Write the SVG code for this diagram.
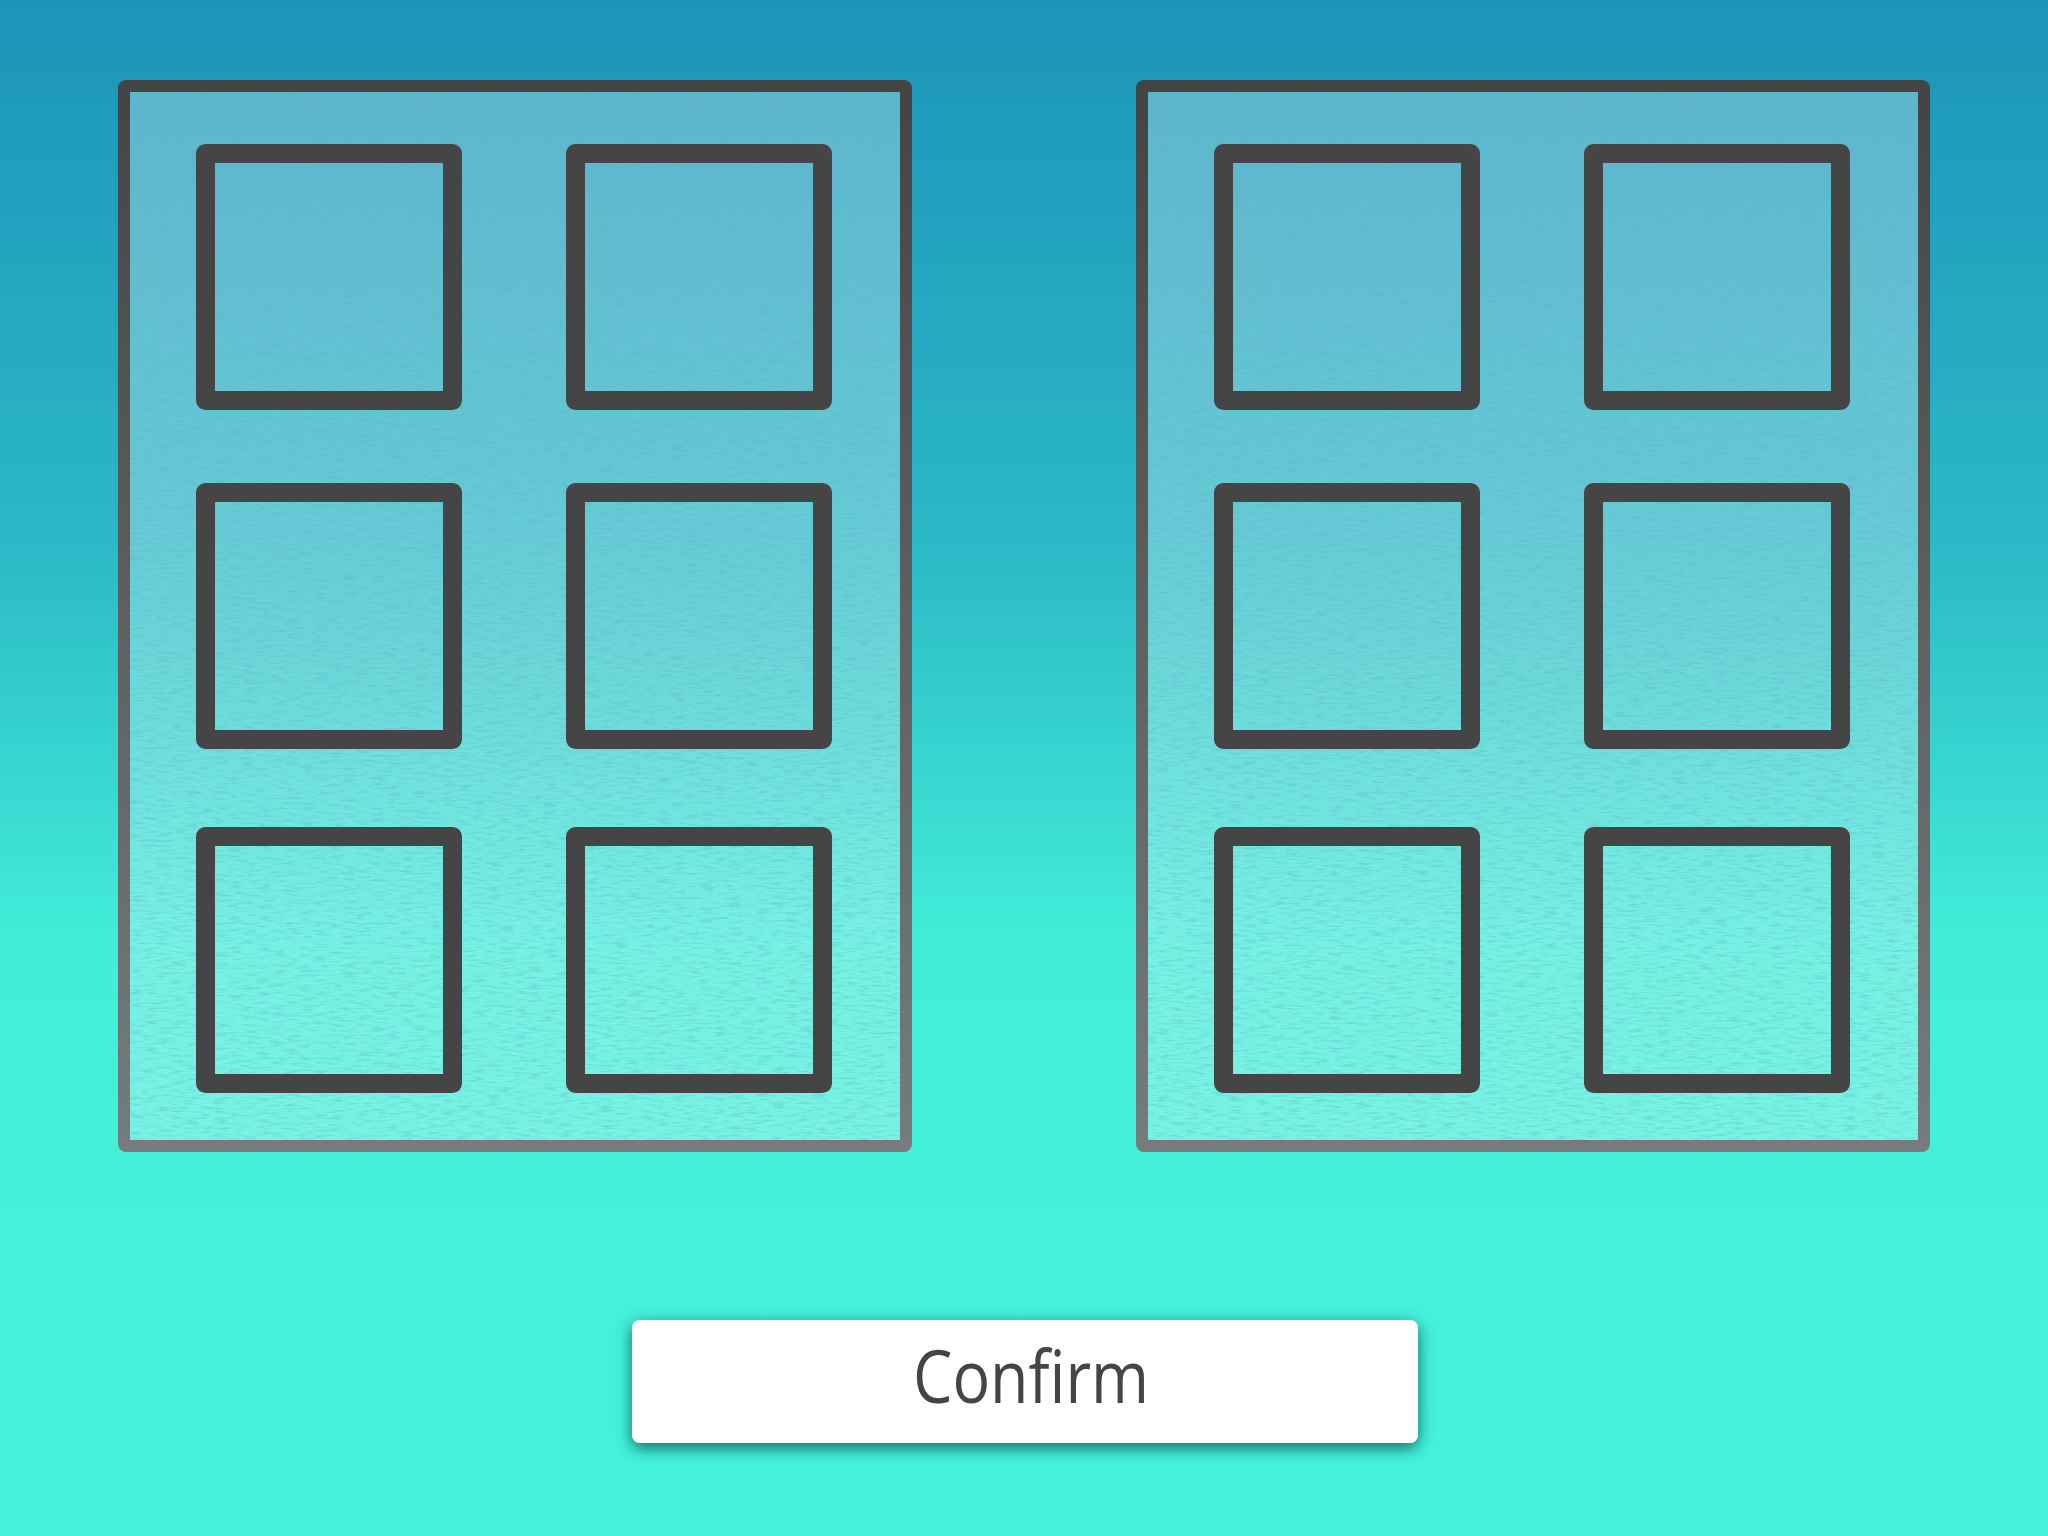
<svg xmlns="http://www.w3.org/2000/svg" width="2048" height="1536" viewBox="0 0 2048 1536">
  <defs>
    <linearGradient id="bg" x1="0" y1="0" x2="0" y2="1">
      <stop offset="0" stop-color="#1c93b9"/>
      <stop offset="0.35" stop-color="#2bb8c6"/>
      <stop offset="0.62" stop-color="#42eed9"/>
      <stop offset="1" stop-color="#45f3dc"/>
    </linearGradient>
    <linearGradient id="panelStroke" x1="0" y1="0" x2="0" y2="1">
      <stop offset="0" stop-color="#444444"/>
      <stop offset="1" stop-color="#777b7c"/>
    </linearGradient>
    <filter id="tex" x="0" y="0" width="100%" height="100%">
      <feTurbulence type="fractalNoise" baseFrequency="0.07 0.4" numOctaves="3" seed="7"/>
      <feColorMatrix type="matrix" values="0 0 0 0 0.12  0 0 0 0 0.45  0 0 0 0 0.55  3.4 0 0 0 -1.6"/>
    </filter>
    <filter id="shadow" x="-10%" y="-40%" width="120%" height="190%">
      <feDropShadow dx="0" dy="5" stdDeviation="8" flood-color="#115a52" flood-opacity="0.9"/>
    </filter>
  </defs>
  <style>
    .panelFill { fill: #ffffff; fill-opacity: 0.28; }
    .panelTex { opacity: 0.35; }
    .panelEdge { fill: none; stroke: url(#panelStroke); stroke-width: 12; stroke-linejoin: round; }
    .slot { fill: none; stroke: #454545; stroke-width: 19; stroke-linejoin: round; }
    .btn { fill: #ffffff; }
    .btnText { font-family: "Open Sans", "Noto Sans", "Liberation Sans", sans-serif; font-size: 73px; fill: #454545; }
  </style>

  <rect x="0" y="0" width="2048" height="1536" fill="url(#bg)"/>

  <g id="panel-left">
    <rect class="panelFill" x="124" y="86" width="782" height="1060" rx="2"/>
    <rect class="panelTex" x="130" y="92" width="770" height="1048" filter="url(#tex)"/>
    <rect class="slot" x="205.5" y="153.5" width="247" height="247"/>
    <rect class="slot" x="575.5" y="153.5" width="247" height="247"/>
    <rect class="slot" x="205.5" y="492.5" width="247" height="247"/>
    <rect class="slot" x="575.5" y="492.5" width="247" height="247"/>
    <rect class="slot" x="205.5" y="836.5" width="247" height="247"/>
    <rect class="slot" x="575.5" y="836.5" width="247" height="247"/>
    <rect class="panelEdge" x="124" y="86" width="782" height="1060" rx="2"/>
  </g>

  <g id="panel-right">
    <rect class="panelFill" x="1142" y="86" width="782" height="1060" rx="2"/>
    <rect class="panelTex" x="1148" y="92" width="770" height="1048" filter="url(#tex)"/>
    <rect class="slot" x="1223.5" y="153.5" width="247" height="247"/>
    <rect class="slot" x="1593.5" y="153.5" width="247" height="247"/>
    <rect class="slot" x="1223.5" y="492.5" width="247" height="247"/>
    <rect class="slot" x="1593.5" y="492.5" width="247" height="247"/>
    <rect class="slot" x="1223.5" y="836.5" width="247" height="247"/>
    <rect class="slot" x="1593.5" y="836.5" width="247" height="247"/>
    <rect class="panelEdge" x="1142" y="86" width="782" height="1060" rx="2"/>
  </g>

  <g id="confirm-button">
    <rect class="btn" x="632" y="1320" width="786" height="123" rx="8" filter="url(#shadow)"/>
    <text class="btnText" x="1031" y="1403" text-anchor="middle" textLength="236" lengthAdjust="spacingAndGlyphs">Confirm</text>
  </g>

  <g id="connectors"/>
</svg>
